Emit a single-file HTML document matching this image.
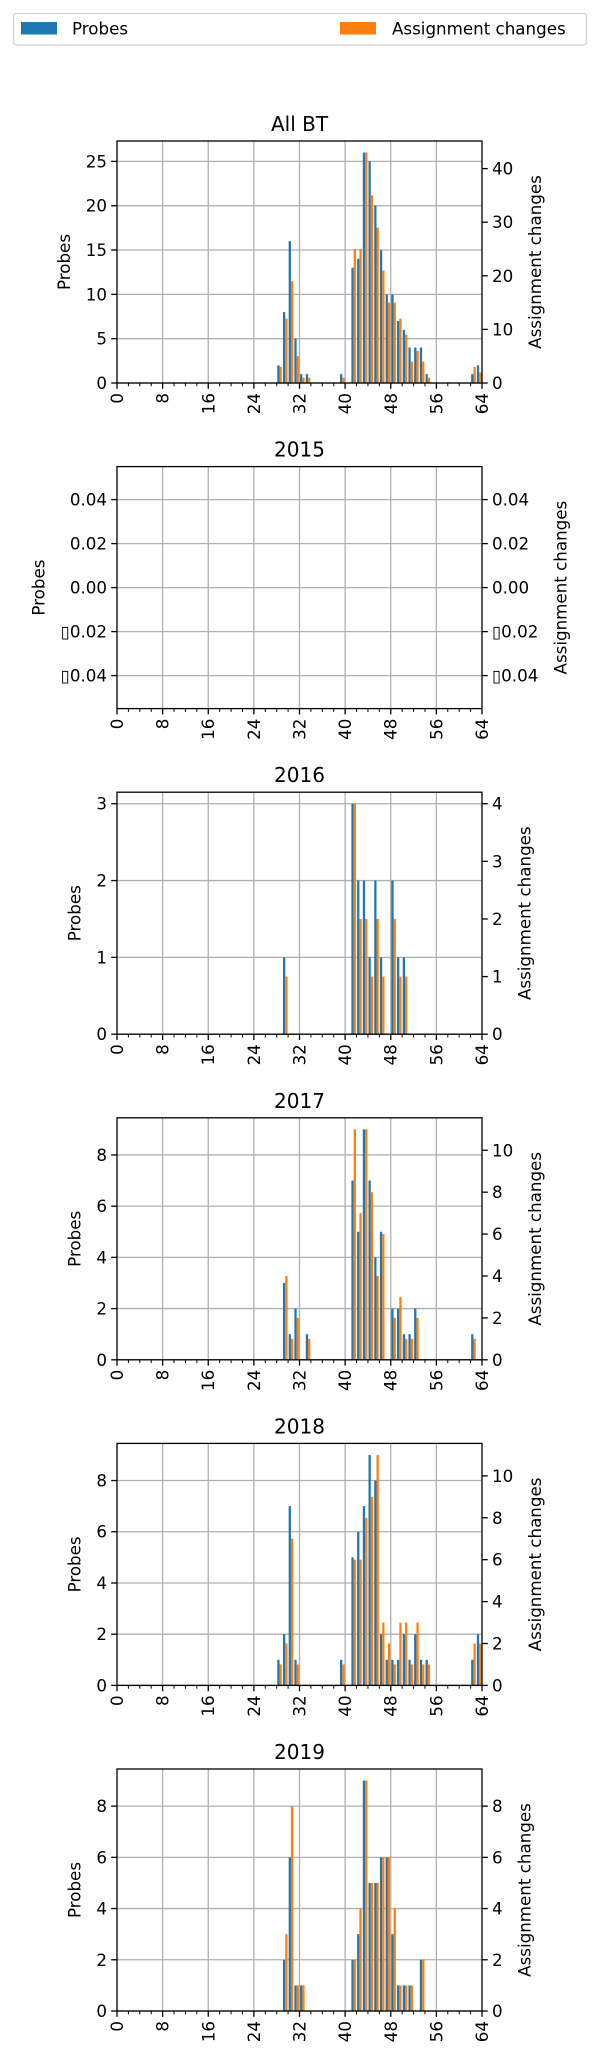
<!DOCTYPE html>
<html><head><meta charset="utf-8"><style>
html,body{margin:0;padding:0;background:#fff;}
svg{display:block;font-family:"DejaVu Sans","Liberation Sans",sans-serif;}
</style></head>
<body>
<svg id="chart" width="600" height="2061" viewBox="0 0 600 2061" xmlns="http://www.w3.org/2000/svg">
  <g>
    <rect x="13.5" y="13.5" width="573" height="31.5" rx="3" fill="#fff" stroke="#d0d0d0" stroke-width="1.2"/>
    <rect x="21" y="22" width="36" height="12.5" fill="#1f77b4"/>
    <text x="72" y="34.5" font-size="16.7">Probes</text>
    <rect x="340" y="22" width="36" height="12.5" fill="#ff7f0e"/>
    <text x="392" y="34.5" font-size="16.7">Assignment changes</text>
  </g>
</svg>
<script>
// ---- data (bins on x axis, 0..63) ----
const panelTitles = ["All BT", "2015", "2016", "2017", "2018", "2019"];
const xTickLabels = ["0","8","16","24","32","40","48","56","64"];

const allBins     = [28,29,30,31,32,33,39,41,42,43,44,45,46,47,48,49,50,51,52,53,54,62,63];
const allProbes   = [2,8,16,5,1,1,1,13,14,26,25,20,15,10,10,7,6,4,4,4,1,1,2];
const allChanges  = [3,12,19,5,1,1,1,25,25,43,35,29,21,15,15,12,9,4,6,4,1,3,2];

const y2015Bins    = [];
const y2015Probes  = [];
const y2015Changes = [];

const y2016Bins    = [29,41,42,43,44,45,46,48,49,50];
const y2016Probes  = [1,3,2,2,1,2,1,2,1,1];
const y2016Changes = [1,4,2,2,1,2,1,2,1,1];

const y2017Bins    = [29,30,31,33,41,42,43,44,45,46,48,49,50,51,52,62];
const y2017Probes  = [3,1,2,1,7,5,9,7,4,5,2,2,1,1,2,1];
const y2017Changes = [4,1,2,1,11,7,11,8,4,6,2,3,1,1,2,1];

const y2018Bins    = [28,29,30,31,39,41,42,43,44,45,46,47,48,49,50,51,52,53,54,62,63];
const y2018Probes  = [1,2,7,1,1,5,6,7,9,8,2,1,1,1,2,1,2,1,1,1,2];
const y2018Changes = [1,2,7,1,1,6,6,8,9,11,3,2,1,3,3,1,3,1,1,2,2];

const y2019Bins    = [29,30,31,32,41,42,43,44,45,46,47,48,49,50,51,53];
const y2019Probes  = [2,6,1,1,2,3,9,5,5,6,6,3,1,1,1,2];
const y2019Changes = [3,8,1,1,2,4,9,5,5,6,6,4,1,1,1,2];

const leftTickLabels = [
  ["0","5","10","15","20","25"],
  ["\u25AF0.04","\u25AF0.02","0.00","0.02","0.04"],
  ["0","1","2","3"],
  ["0","2","4","6","8"],
  ["0","2","4","6","8"],
  ["0","2","4","6","8"]
];
const rightTickLabels = [
  ["0","10","20","30","40"],
  ["\u25AF0.04","\u25AF0.02","0.00","0.02","0.04"],
  ["0","1","2","3","4"],
  ["0","2","4","6","8","10"],
  ["0","2","4","6","8","10"],
  ["0","2","4","6","8"]
];

const panelBins    = [allBins, y2015Bins, y2016Bins, y2017Bins, y2018Bins, y2019Bins];
const panelProbes  = [allProbes, y2015Probes, y2016Probes, y2017Probes, y2018Probes, y2019Probes];
const panelChanges = [allChanges, y2015Changes, y2016Changes, y2017Changes, y2018Changes, y2019Changes];

// ---- layout ----
const NS = "http://www.w3.org/2000/svg";
const svg = document.getElementById("chart");
const AX_L = 117, AX_R = 482, AX_H = 242, TOP0 = 141, STEP = 325.6;
const FS = 16.7;
const BLUE = "#1f77b4", ORANGE = "#ff7f0e", GRID = "#b0b0b0";

function mk(tag, attrs, parent) {
  const el = document.createElementNS(NS, tag);
  for (const k in attrs) el.setAttribute(k, attrs[k]);
  parent.appendChild(el);
  return el;
}
function parseTick(s) { return parseFloat(s.replace("\u25AF", "-")); }
function limits(vals) {
  if (!vals.length) return [-0.055, 0.055];
  const m = Math.max(...vals);
  return m > 0 ? [0, m * 1.05] : [-0.055, 0.055];
}
function xScale(v) { return AX_L + v * (AX_R - AX_L) / 64; }

for (let p = 0; p < panelTitles.length; p++) {
  const top = TOP0 + p * STEP, bot = top + AX_H;
  const g = mk("g", {}, svg);
  
  

  const bins = panelBins[p], probes = panelProbes[p], changes = panelChanges[p];
  const [l0, l1] = limits(probes);
  const [r0, r1] = limits(changes);
  const yL = v => bot - (v - l0) / (l1 - l0) * AX_H;
  const yR = v => bot - (v - r0) / (r1 - r0) * AX_H;

  // grid
  for (let i = 1; i < xTickLabels.length - 1; i++) {
    const gx = xScale(parseFloat(xTickLabels[i]));
    const ln = mk("line", {x1: gx, x2: gx, y1: top, y2: bot, stroke: GRID, "stroke-width": 1.3}, g);
    
    
  }
  leftTickLabels[p].forEach(t => {
    const gy = yL(parseTick(t));
    const ln = mk("line", {x1: AX_L, x2: AX_R, y1: gy, y2: gy, stroke: GRID, "stroke-width": 1.3}, g);
    
    
  });

  // bars
  bins.forEach((b, i) => {
    const bx = xScale(b + 0.1), bw = xScale(0.4) - AX_L;
    const y1 = yL(Math.max(probes[i], 0)), y0 = yL(Math.max(l0, 0));
    const rb = mk("rect", {x: bx, y: y1, width: bw, height: y0 - y1, fill: BLUE}, g);
    
    
    const ox = xScale(b + 0.5);
    const y2 = yR(Math.max(changes[i], 0)), y3 = yR(Math.max(r0, 0));
    const ro = mk("rect", {x: ox, y: y2, width: bw, height: y3 - y2, fill: ORANGE}, g);
    
    
  });

  // frame
  const fr = mk("rect", {x: AX_L, y: top, width: AX_R - AX_L, height: AX_H, fill: "none", stroke: "#000", "stroke-width": 1.3}, g);
  
  

  // x ticks
  for (let v = 0; v <= 64; v += 2) {
    const tx = xScale(v), major = v % 8 === 0;
    const tk = mk("line", {x1: tx, x2: tx, y1: bot, y2: bot + (major ? 5.8 : 3.3), stroke: "#000", "stroke-width": major ? 1.3 : 1}, g);
    
    
  }
  xTickLabels.forEach(t => {
    const tx = xScale(parseFloat(t)), ty = bot + 10;
    const tl = mk("text", {x: tx, y: ty, "font-size": FS, "text-anchor": "end", "dominant-baseline": "central", transform: `rotate(-90 ${tx} ${ty})`}, g);
    tl.textContent = t;
    
    
  });

  // left ticks
  let maxL = 0;
  leftTickLabels[p].forEach(t => {
    const ty = yL(parseTick(t));
    const tk = mk("line", {x1: AX_L - 5.8, x2: AX_L, y1: ty, y2: ty, stroke: "#000", "stroke-width": 1.3}, g);
    
    
    const tl = mk("text", {x: AX_L - 10, y: ty + 6, "font-size": FS, "text-anchor": "end"}, g);
    tl.textContent = t;
    
    
    maxL = Math.max(maxL, tl.getComputedTextLength());
  });
  // right ticks
  let maxR = 0;
  rightTickLabels[p].forEach(t => {
    const ty = yR(parseTick(t));
    const tk = mk("line", {x1: AX_R, x2: AX_R + 5.8, y1: ty, y2: ty, stroke: "#000", "stroke-width": 1.3}, g);
    
    
    const tl = mk("text", {x: AX_R + 10, y: ty + 6, "font-size": FS, "text-anchor": "start"}, g);
    tl.textContent = t;
    
    
    maxR = Math.max(maxR, tl.getComputedTextLength());
  });

  // axis labels
  const cy = top + AX_H / 2;
  const lx = AX_L - 10 - maxL - 22;
  const yl = mk("text", {x: lx, y: cy, "font-size": FS, "text-anchor": "middle", "dominant-baseline": "central", transform: `rotate(-90 ${lx} ${cy})`}, g);
  yl.textContent = "Probes";
  
  
  const rx = AX_R + 10 + maxR + 22;
  const yr = mk("text", {x: rx, y: cy, "font-size": FS, "text-anchor": "middle", "dominant-baseline": "central", transform: `rotate(-90 ${rx} ${cy})`}, g);
  yr.textContent = "Assignment changes";
  
  

  // title
  const tt = mk("text", {x: (AX_L + AX_R) / 2, y: top - 10, "font-size": 20, "text-anchor": "middle"}, g);
  tt.textContent = panelTitles[p];
  
  
}
</script>
</body></html>
